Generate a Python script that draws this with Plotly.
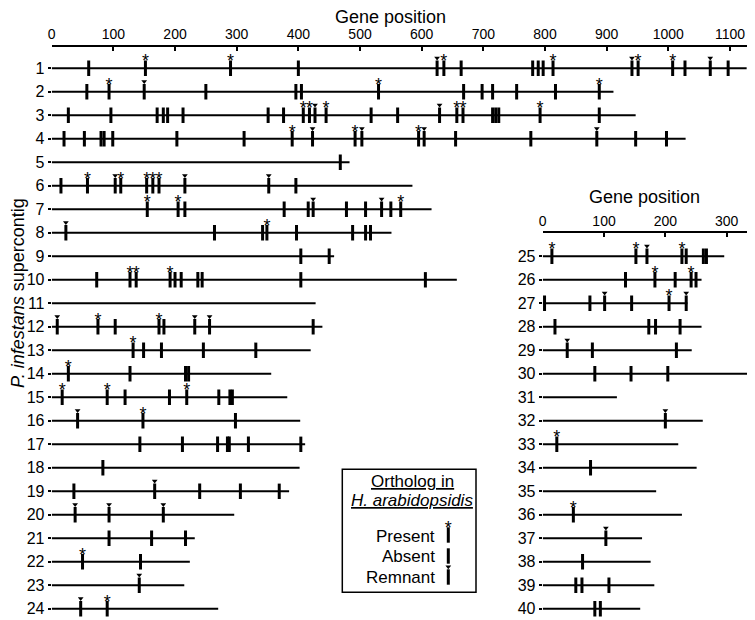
import plotly.graph_objects as go

# ---------------- data ----------------
left_contigs = list(range(1, 25))
left_lengths = [1127, 911, 947, 1028, 483, 585, 616, 551, 458, 657, 428, 439,
                420, 356, 382, 403, 411, 402, 385, 296, 232, 224, 215, 270]
right_contigs = list(range(25, 41))
right_lengths = [296, 259, 236, 259, 243, 335, 121, 261, 221, 251, 185, 227,
                 162, 176, 182, 159]

left_ticks = [0, 100, 200, 300, 400, 500, 600, 700, 800, 900, 1000, 1100]
right_ticks = [0, 100, 200, 300]

# (supercontig, gene position) -- ortholog present in H. arabidopsidis
present = [(1, 152), (1, 290), (1, 636), (1, 813), (1, 951), (1, 1007),
           (2, 93), (2, 530), (2, 888),
           (3, 408), (3, 418), (3, 445), (3, 657), (3, 667), (3, 792),
           (4, 390), (4, 492), (4, 595),
           (6, 58), (6, 112), (6, 154), (6, 164), (6, 174),
           (7, 155), (7, 205), (7, 566),
           (8, 349),
           (10, 127), (10, 137), (10, 192),
           (12, 75), (12, 174),
           (13, 132), (14, 27), (15, 17), (15, 90), (15, 219),
           (16, 148), (22, 50), (24, 90),
           (25, 15), (25, 152), (25, 227), (26, 183), (26, 242), (27, 206),
           (33, 23), (36, 50)]

# ortholog remnant
remnant = [(1, 625), (1, 941), (1, 1068), (2, 150), (3, 427), (3, 629),
           (4, 423), (4, 503), (4, 604), (4, 884),
           (6, 103), (6, 216), (6, 352), (7, 424), (7, 535), (8, 23),
           (12, 9), (12, 232), (12, 256), (16, 42), (19, 167),
           (20, 38), (20, 93), (20, 181), (23, 142), (24, 47),
           (25, 170), (27, 101), (27, 234), (29, 40), (32, 200), (37, 103)]

# ortholog absent
absent = [(1, 60), (1, 400), (1, 664), (1, 780), (1, 789), (1, 797), (1, 1027), (1, 1097),
          (2, 57), (2, 250), (2, 396), (2, 405), (2, 668), (2, 698), (2, 715), (2, 754), (2, 817),
          (3, 27), (3, 96), (3, 171), (3, 181), (3, 188), (3, 213), (3, 351), (3, 376),
          (3, 518), (3, 561), (3, 715), (3, 720), (3, 725), (3, 888),
          (4, 20), (4, 53), (4, 80), (4, 85), (4, 99), (4, 203), (4, 312), (4, 655),
          (4, 777), (4, 947), (4, 997),
          (5, 468), (6, 15), (6, 396),
          (7, 216), (7, 377), (7, 416), (7, 478), (7, 509), (7, 550),
          (8, 264), (8, 342), (8, 397), (8, 488), (8, 509), (8, 517),
          (9, 404), (9, 450),
          (10, 73), (10, 200), (10, 210), (10, 237), (10, 244), (10, 404), (10, 606),
          (12, 103), (12, 182), (12, 424),
          (13, 149), (13, 178), (13, 246), (13, 331),
          (14, 127), (14, 217), (14, 222),
          (15, 119), (15, 191), (15, 271), (15, 289), (15, 293),
          (16, 298),
          (17, 143), (17, 212), (17, 269), (17, 285), (17, 288), (17, 319), (17, 404),
          (18, 83), (19, 36), (19, 240), (19, 306), (19, 369),
          (21, 93), (21, 162), (21, 217), (22, 144),
          (25, 234), (25, 262), (25, 267), (26, 135), (26, 216), (26, 250),
          (27, 3), (27, 77), (27, 145), (28, 20), (28, 173), (28, 184), (28, 224),
          (29, 81), (29, 218), (30, 85), (30, 144), (30, 204),
          (34, 78), (38, 65), (39, 54), (39, 64), (39, 108), (40, 85), (40, 94)]

# ---------------- geometry (screen pixels of the reference) ----------------
W, H = 755, 620
SX, SY = 8, 8          # page body margin that offsets the figure on screen
FONT = "Liberation Sans, Arial, Helvetica, sans-serif"
ROW_PX = 23.5          # px between rows
ROW1_PX = 68.3         # screen px of row 1
LAX_PX = 46.7          # screen px of left top axis line
RAX_PX = 232.3         # screen px of right top axis line
L_X0, L_PPU = 51.7, 0.61664
R_X0, R_PPU = 542.7, 0.6133
L_MAX, R_MAX = 1130, 337


def fx(p):
    return (p - SX) / W


def fy(p):
    return 1 - (p - SY) / H


y_top = 1 - (ROW1_PX - LAX_PX) / ROW_PX
y_bot = 1 + (H + SY - ROW1_PX) / ROW_PX

STAR_OFF = 5.4 / ROW_PX
ARROW_OFF = 10.3 / ROW_PX


def yrow(c):
    return c if c <= 24 else c - 16


fig = go.Figure()

# contig lines
for contigs, lengths, (xa, ya) in [(left_contigs, left_lengths, ("x", "y")),
                                   (right_contigs, right_lengths, ("x2", "y2"))]:
    xs, ys = [], []
    for c, L in zip(contigs, lengths):
        xs += [0, L, None]
        ys += [yrow(c), yrow(c), None]
    fig.add_trace(go.Scatter(x=xs, y=ys, mode="lines", xaxis=xa, yaxis=ya,
                             line=dict(color="black", width=2), hoverinfo="skip"))

BAR = dict(symbol="line-ns", size=11, color="black", line=dict(color="black", width=3))
ARROW = dict(symbol="triangle-down", size=5, color="black", line=dict(width=0))
STAR_FONT = dict(family=FONT, size=18, color="black")

# gene bars, stars and arrows
for side in ("L", "R"):
    sel = (lambda c: c <= 24) if side == "L" else (lambda c: c > 24)
    xa, ya = ("x", "y") if side == "L" else ("x2", "y2")
    genes = [g for g in present + remnant + absent if sel(g[0])]
    fig.add_trace(go.Scatter(
        x=[g[1] for g in genes], y=[yrow(g[0]) for g in genes], mode="markers",
        xaxis=xa, yaxis=ya, hoverinfo="skip", marker=BAR))
    ps = [g for g in present if sel(g[0])]
    fig.add_trace(go.Scatter(
        x=[g[1] for g in ps], y=[yrow(g[0]) - STAR_OFF for g in ps], mode="text",
        text=["*"] * len(ps), textposition="middle center", textfont=STAR_FONT,
        xaxis=xa, yaxis=ya, hoverinfo="skip"))
    rs = [g for g in remnant if sel(g[0])]
    fig.add_trace(go.Scatter(
        x=[g[1] for g in rs], y=[yrow(g[0]) - ARROW_OFF for g in rs], mode="markers",
        marker=ARROW, xaxis=xa, yaxis=ya, hoverinfo="skip"))

# ---------------- legend glyphs (placed in left-axis coordinates) ----------------
def lx(px):
    return (px - L_X0) / L_PPU


def ly(py):
    return 1 + (py - ROW1_PX) / ROW_PX


leg_x = lx(448.3)
leg_rows = [ly(535), ly(556), ly(577)]
fig.add_trace(go.Scatter(x=[leg_x] * 3, y=leg_rows, mode="markers", hoverinfo="skip", marker=BAR))
fig.add_trace(go.Scatter(x=[leg_x], y=[leg_rows[0] - STAR_OFF], mode="text", text=["*"],
                         textposition="middle center", textfont=STAR_FONT, hoverinfo="skip"))
fig.add_trace(go.Scatter(x=[leg_x], y=[leg_rows[2] - ARROW_OFF], mode="markers",
                         hoverinfo="skip", marker=ARROW))

annotations = [
    dict(text="Gene position", x=fx(391), y=fy(5), font=dict(size=18),
         xanchor="center", yanchor="top"),
    dict(text="Gene position", x=fx(644), y=fy(197), font=dict(size=18),
         xanchor="center", yanchor="middle"),
    dict(text="<i>P. infestans</i> supercontig", x=fx(18), y=fy(293), textangle=-90,
         font=dict(size=18), xanchor="center", yanchor="middle"),
    dict(text='<span style="text-decoration:underline">Ortholog in</span>',
         x=fx(412.5), y=fy(481), font=dict(size=17), xanchor="center", yanchor="middle"),
    dict(text='<span style="text-decoration:underline"><i>H. arabidopsidis</i></span>',
         x=fx(412), y=fy(500), font=dict(size=17), xanchor="center", yanchor="middle"),
    dict(text="Present", x=fx(437), y=fy(536), font=dict(size=17),
         xanchor="right", yanchor="middle"),
    dict(text="Absent", x=fx(437), y=fy(556.5), font=dict(size=17),
         xanchor="right", yanchor="middle"),
    dict(text="Remnant", x=fx(437), y=fy(577), font=dict(size=17),
         xanchor="right", yanchor="middle"),
]
for a in annotations:
    a.update(xref="paper", yref="paper", showarrow=False)
    a["font"].update(family=FONT, color="black")

shapes = [dict(type="rect", xref="paper", yref="paper",
               x0=fx(342.3), x1=fx(476), y0=fy(469.3), y1=fy(592.3),
               line=dict(color="black", width=1.5))]

common_x = dict(side="top", showline=True, linewidth=2, linecolor="black",
                ticks="inside", ticklen=4, tickwidth=1.5, tickcolor="black",
                showgrid=False, zeroline=False, automargin=False,
                tickfont=dict(family=FONT, size=14, color="black"))
common_y = dict(showline=False, ticks="outside", ticklen=3, tickwidth=1.5,
                tickcolor="black", showgrid=False, zeroline=False, automargin=False,
                range=[y_bot, y_top], domain=[0, fy(LAX_PX)],
                tickfont=dict(family=FONT, size=16, color="black"))

fig.update_layout(
    width=W, height=H, autosize=False, template="none",
    margin=dict(l=0, r=0, t=0, b=0, pad=0),
    paper_bgcolor="white", plot_bgcolor="rgba(0,0,0,0)", showlegend=False,
    font=dict(family=FONT, color="black"),
    xaxis=dict(common_x, domain=[fx(L_X0), fx(L_X0 + L_MAX * L_PPU)], range=[0, L_MAX],
               anchor="y", tickvals=left_ticks, ticktext=[str(t) for t in left_ticks]),
    yaxis=dict(common_y, anchor="x", tickvals=[yrow(c) for c in left_contigs],
               ticktext=[str(c) for c in left_contigs]),
    xaxis2=dict(common_x, domain=[fx(R_X0), fx(R_X0 + R_MAX * R_PPU)], range=[0, R_MAX],
                anchor="free", position=fy(RAX_PX),
                tickvals=right_ticks, ticktext=[str(t) for t in right_ticks]),
    yaxis2=dict(common_y, anchor="x2", tickvals=[yrow(c) for c in right_contigs],
                ticktext=[str(c) for c in right_contigs]),
    annotations=annotations, shapes=shapes,
)

fig.write_html("out.html")
